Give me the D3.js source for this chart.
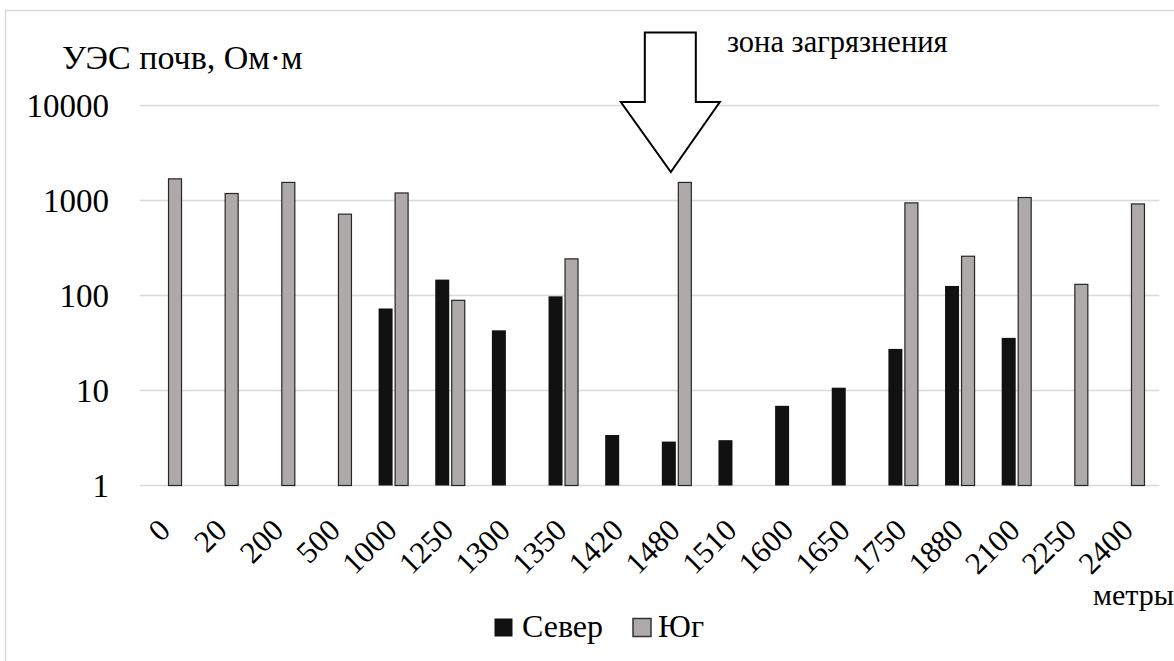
<!DOCTYPE html>
<html>
<head>
<meta charset="utf-8">
<script src="https://cdn.jsdelivr.net/npm/d3@7"></script>
<style>
  html, body { margin: 0; padding: 0; background: #fff; }
  svg { display: block; }
  svg text { font-family: "Liberation Serif", "Times New Roman", Times, "DejaVu Serif", serif; }
</style>
</head>
<body>
<svg id="chart" width="1174" height="661"></svg>
<script>
// ---- data ----
const categories = ["0","20","200","500","1000","1250","1300","1350","1420","1480","1510","1600","1650","1750","1880","2100","2250","2400"];
const seriesNames = ["Север", "Юг"];
const sever = [null, null, null, null, 73, 147, 43, 98, 3.4, 2.9, 3.0, 6.9, 10.7, 27.4, 126, 35.8, null, null];
const yug   = [1690, 1185, 1550, 718, 1200, 89, null, 243, null, 1550, null, null, null, 944, 259, 1075, 131, 920];
const yTicks = [1, 10, 100, 1000, 10000];
const yTickLabels = ["1", "10", "100", "1000", "10000"];
const yTitle = "УЭС почв, Ом·м";
const xTitle = "метры";
const annotationText = "зона загрязнения";
const annotationCategory = "1480";

const colors = { "Север": "#111111", "Юг": "#aeaaaa" };
const strokes = { "Север": "none", "Юг": "#262626" };

const svg = d3.select("#chart");

// chart area border (top/left visible)
svg.append("rect").attr("x", 5.5).attr("y", 10.5).attr("width", 1300).attr("height", 800)
  .attr("fill", "none").attr("stroke", "#d9d9d9").attr("stroke-width", 1.5);

const plotLeft = 139.7, plotRight = 1159.3, plotTop = 105.5, plotBottom = 485.5;

const x = d3.scaleBand().domain(categories).range([plotLeft, plotRight]).padding(0);
const step = x.step();
const xInner = d3.scaleBand().domain(seriesNames).range([0, 30]).paddingInner(0.125);
const y = d3.scaleLog().domain([1, 10000]).range([plotBottom, plotTop]);

// gridlines
svg.append("g").selectAll("line").data(yTicks).join("line")
  .attr("x1", plotLeft).attr("x2", plotRight)
  .attr("y1", d => y(d)).attr("y2", d => y(d))
  .attr("stroke", "#d9d9d9").attr("stroke-width", 1.5);

// y tick labels
svg.append("g").selectAll("text").data(yTicks).join("text")
  .attr("x", 109).attr("y", d => y(d)).attr("dy", "0.35em")
  .attr("text-anchor", "end").attr("font-size", 33)
  .text((d, i) => yTickLabels[i]);

// bars
const rows = categories.map((c, i) => ({ c, values: [{ s: "Север", v: sever[i] }, { s: "Юг", v: yug[i] }] }));
const groups = svg.append("g").selectAll("g").data(rows).join("g")
  .attr("transform", d => `translate(${x(d.c) + step / 2 - 16},0)`);
groups.selectAll("rect").data(d => d.values.filter(e => e.v != null)).join("rect")
  .attr("x", d => xInner(d.s) + (d.s === "Юг" ? 0.5 : 0))
  .attr("width", d => xInner.bandwidth() - (d.s === "Юг" ? 1 : 0))
  .attr("y", d => y(d.v))
  .attr("height", d => y(1) - y(d.v))
  .attr("fill", d => colors[d.s])
  .attr("stroke", d => strokes[d.s])
  .attr("stroke-width", 1.2);

// x tick labels (rotated)
svg.append("g").selectAll("text").data(categories).join("text")
  .attr("transform", d => `translate(${x(d) + step / 2 + 4},532) rotate(-45)`)
  .attr("text-anchor", "end").attr("font-size", 31)
  .text(d => d);

// axis titles
svg.append("text").attr("x", 62).attr("y", 69).attr("font-size", 34).text(yTitle);
svg.append("text").attr("x", 1093).attr("y", 605).attr("font-size", 30).text(xTitle);

// annotation arrow
const ax = x(annotationCategory) + step / 2 - 7;
const arrowPts = [
  [ax - 26, 32.5], [ax + 25, 32.5], [ax + 25, 102], [ax + 49, 102],
  [ax, 172], [ax - 50, 102], [ax - 26, 102]
];
svg.append("path").attr("d", d3.line()(arrowPts) + "Z")
  .attr("fill", "#fff").attr("stroke", "#000").attr("stroke-width", 2)
  .attr("stroke-linejoin", "miter");
svg.append("text").attr("x", 727).attr("y", 52).attr("font-size", 30.5).text(annotationText);

// legend
const legend = svg.append("g");
const legendItems = [
  { s: "Север", bx: 494.5, tx: 522 },
  { s: "Юг", bx: 633, tx: 658 }
];
legend.selectAll("rect").data(legendItems).join("rect")
  .attr("x", d => d.bx).attr("y", 618.5).attr("width", 18).attr("height", 18)
  .attr("fill", d => colors[d.s]).attr("stroke", d => strokes[d.s] === "none" ? "none" : "#333")
  .attr("stroke-width", 1.5);
legend.selectAll("text").data(legendItems).join("text")
  .attr("x", d => d.tx).attr("y", 637).attr("font-size", 32)
  .text(d => d.s);
</script>
</body>
</html>
